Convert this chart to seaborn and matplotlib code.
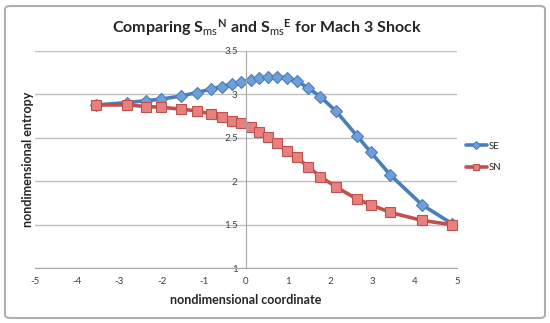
import pandas as pd
import seaborn as sns
import matplotlib.pyplot as plt
from matplotlib.patches import FancyBboxPatch

# data
coord = [-3.56, -2.81, -2.36, -2.02, -1.53, -1.17, -0.84, -0.58, -0.34, -0.11,
         0.11, 0.30, 0.52, 0.74, 0.97, 1.20, 1.47, 1.76, 2.14, 2.63,
         2.96, 3.42, 4.17, 4.88]
se = [2.875, 2.902, 2.925, 2.941, 2.979, 3.017, 3.056, 3.086, 3.117, 3.143,
      3.162, 3.182, 3.200, 3.200, 3.189, 3.153, 3.071, 2.971, 2.800, 2.520,
      2.330, 2.070, 1.727, 1.510]
sn = [2.875, 2.875, 2.856, 2.849, 2.826, 2.807, 2.772, 2.741, 2.692, 2.665,
      2.619, 2.565, 2.511, 2.436, 2.344, 2.273, 2.167, 2.052, 1.930, 1.793,
      1.727, 1.639, 1.547, 1.498]
x_ticks = [-5, -4, -3, -2, -1, 0, 1, 2, 3, 4, 5]
y_ticks = [1, 1.5, 2, 2.5, 3, 3.5]
y_tick_labels = ['1', '1.5', '2', '2.5', '3', '3.5']

df_se = pd.DataFrame({'x': coord, 'y': se})
df_sn = pd.DataFrame({'x': coord, 'y': sn})

sns.set_style('white')
plt.rcParams['font.family'] = ['Lato', 'DejaVu Sans']
plt.rcParams['mathtext.fontset'] = 'custom'
plt.rcParams['mathtext.rm'] = 'Lato'
plt.rcParams['mathtext.bf'] = 'Lato:bold'
plt.rcParams['mathtext.it'] = 'Lato:italic'

fig = plt.figure(figsize=(5.5, 3.23), dpi=100)
ax = fig.add_axes([35 / 550, 1 - 268 / 323, 422 / 550, 217.4 / 323])

# rounded chart border
border = FancyBboxPatch((5 / 550, 5 / 323), 540 / 550, 312 / 323,
                        boxstyle='round,pad=0,rounding_size=0.01',
                        transform=fig.transFigure, fill=False,
                        edgecolor='#B0B0B0', linewidth=1.5)
fig.patches.append(border)

sns.lineplot(data=df_se, x='x', y='y', ax=ax, color='#4A7EBB', linewidth=2.6,
             marker='D', markersize=6.5, markerfacecolor='#6E9FD8',
             markeredgecolor='#4A7EBB', markeredgewidth=0.8, label='SE')
sns.lineplot(data=df_sn, x='x', y='y', ax=ax, color='#C0504D', linewidth=2.6,
             marker='s', markersize=7, markerfacecolor='#E8817E',
             markeredgecolor='#C0504D', markeredgewidth=0.8, label='SN')

ax.set_xlim(-5, 5)
ax.set_ylim(1, 3.5)
ax.set_xticks(x_ticks)
ax.set_xticklabels([str(t) for t in x_ticks])
ax.set_yticks(y_ticks)
ax.set_yticklabels(y_tick_labels)

ax.yaxis.grid(True, color='#BFBFBF', linewidth=1)
ax.xaxis.grid(False)
ax.set_axisbelow(True)

for s in ['top', 'right']:
    ax.spines[s].set_visible(False)
ax.spines['left'].set_position(('data', 0))
ax.spines['left'].set_color('#A6A6A6')
ax.spines['bottom'].set_color('#A6A6A6')
ax.tick_params(axis='x', direction='inout', length=5, color='#A6A6A6',
               labelsize=7, labelcolor='#404040', pad=4)
ax.tick_params(axis='y', direction='out', length=4, color='#A6A6A6',
               labelsize=7, labelcolor='#404040', pad=2)

ax.set_xlabel('nondimensional coordinate', fontsize=9, fontweight='bold', labelpad=6)
ax.set_ylabel('nondimensional entropy', fontsize=9, fontweight='bold')
ax.yaxis.set_label_coords(-0.002, 0.5)

fig.text(0.485, 0.915,
         r'Comparing S$_{\mathrm{ms}}$$^{\mathbf{N}}$ and S$_{\mathrm{ms}}$$^{\mathbf{E}}$ for Mach 3 Shock',
         ha='center', va='center', fontsize=11.5, fontweight='bold')

leg = ax.legend(loc='center left', bbox_to_anchor=(1.0, 0.51), frameon=False,
                fontsize=7, handlelength=2.2, handletextpad=0.2, labelspacing=1.3,
                markerscale=0.6)

fig.savefig('out.png', dpi=100)
